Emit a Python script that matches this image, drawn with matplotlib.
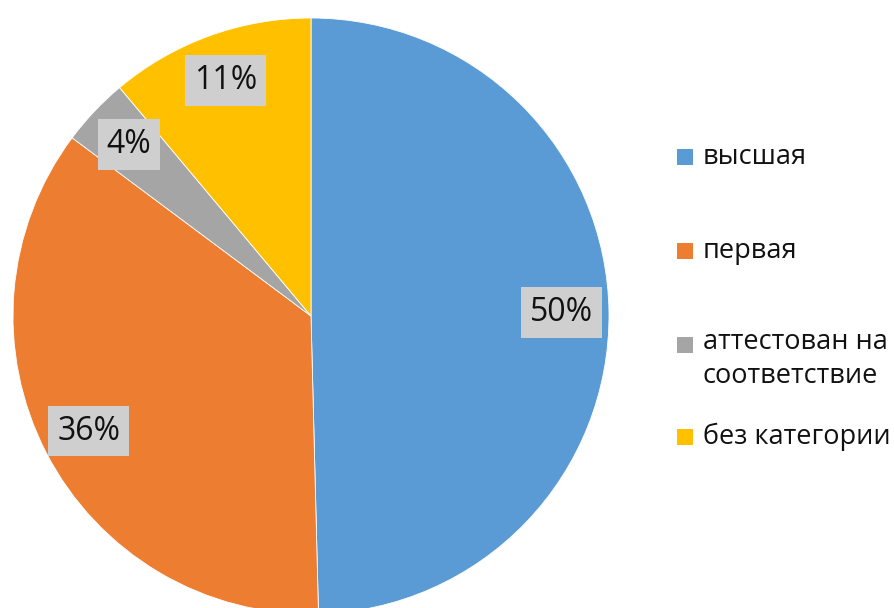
import matplotlib
matplotlib.use("Agg")
import matplotlib.pyplot as plt
from matplotlib.patches import Rectangle

categories = ["высшая", "первая", "аттестован на\nсоответствие", "без категории"]
shares = [49.6, 35.6, 3.7, 11.1]
colors = ["#5b9bd5", "#ed7d31", "#a5a5a5", "#ffc000"]

plt.rcParams["font.family"] = ["Open Sans", "DejaVu Sans"]

W, H = 894, 608
fig = plt.figure(figsize=(W / 100, H / 100), dpi=100)
fig.patch.set_facecolor("white")

cx, cy, r = 311, 316, 298
ax = fig.add_axes([(cx - r) / W, (H - cy - r) / H, 2 * r / W, 2 * r / H])

wedges, texts, autotexts = ax.pie(
    shares,
    colors=colors,
    startangle=90,
    counterclock=False,
    radius=1,
    autopct="%.0f%%",
    pctdistance=0.84,
    wedgeprops={"edgecolor": "white", "linewidth": 0.6},
    textprops={"fontsize": 23, "color": "#111111"},
)
ax.set_xlim(-1, 1)
ax.set_ylim(-1, 1)
ax.set_aspect("equal")
ax.axis("off")

for t in autotexts:
    t.set_bbox({"boxstyle": "square,pad=0.28", "facecolor": "#d0cfd0", "edgecolor": "none"})

# legend drawn by hand so the square sits on the first text line
rows_y = [157, 251, 345, 437]
for label, color, y in zip(categories, colors, rows_y):
    fig.patches.append(
        Rectangle((677 / W, (H - y - 8) / H), 16 / W, 16 / H,
                  transform=fig.transFigure, facecolor=color, edgecolor="none")
    )
    two_lines = "\n" in label
    ty = (H - y + 17) / H if two_lines else (H - y) / H
    fig.text(703 / W, ty, label, ha="left", va="top" if two_lines else "center",
             fontsize=19.5, color="#111111", linespacing=1.3)

fig.savefig("out.png", dpi=100, facecolor="white")
